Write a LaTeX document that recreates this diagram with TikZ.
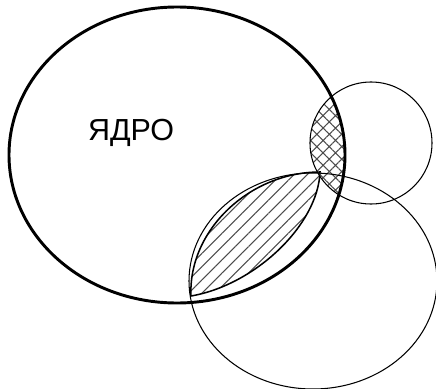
\documentclass[tikz,border=0pt]{standalone}
\usepackage{fontspec}
\setmainfont{Liberation Sans}
\usetikzlibrary{patterns.meta}

\begin{document}
\begin{tikzpicture}[x=0.03cm, y=-0.03cm,
  outline/.style={draw=black, line width=2.5pt},
  ring/.style={draw=black, line width=0.9pt},
  lensLine/.style={draw=black, line width=1.3pt},
  hatchFill/.style={pattern={Lines[angle=45, distance=8pt, line width=0.9pt]}, pattern color=black!70},
  crossFill/.style={pattern={Hatch[angle=45, distance=7.5pt, line width=0.9pt]}, pattern color=black!70}]

  \path[use as bounding box, clip] (0,0) rectangle (436,389);

  % hatched lens
  \path[hatchFill, lensLine] (191,296) .. controls (188,230) and (250,172) .. (320,172)
    .. controls (318,225) and (255,285) .. (191,296) -- cycle;

  % crosshatched part of the core
  \begin{scope}
    \clip (177,155) ellipse [x radius=168, y radius=148];
    \fill[crossFill] (371,143) circle [radius=61];
  \end{scope}

  \draw[ring] (371,143) circle [radius=61];
  \draw[ring] (313,281) ellipse [x radius=124, y radius=108];
  \draw[outline] (177,155) ellipse [x radius=168, y radius=148];

  \node (core) at (131,133) {\fontsize{26}{26}\selectfont ЯДРО};
\end{tikzpicture}
\end{document}
